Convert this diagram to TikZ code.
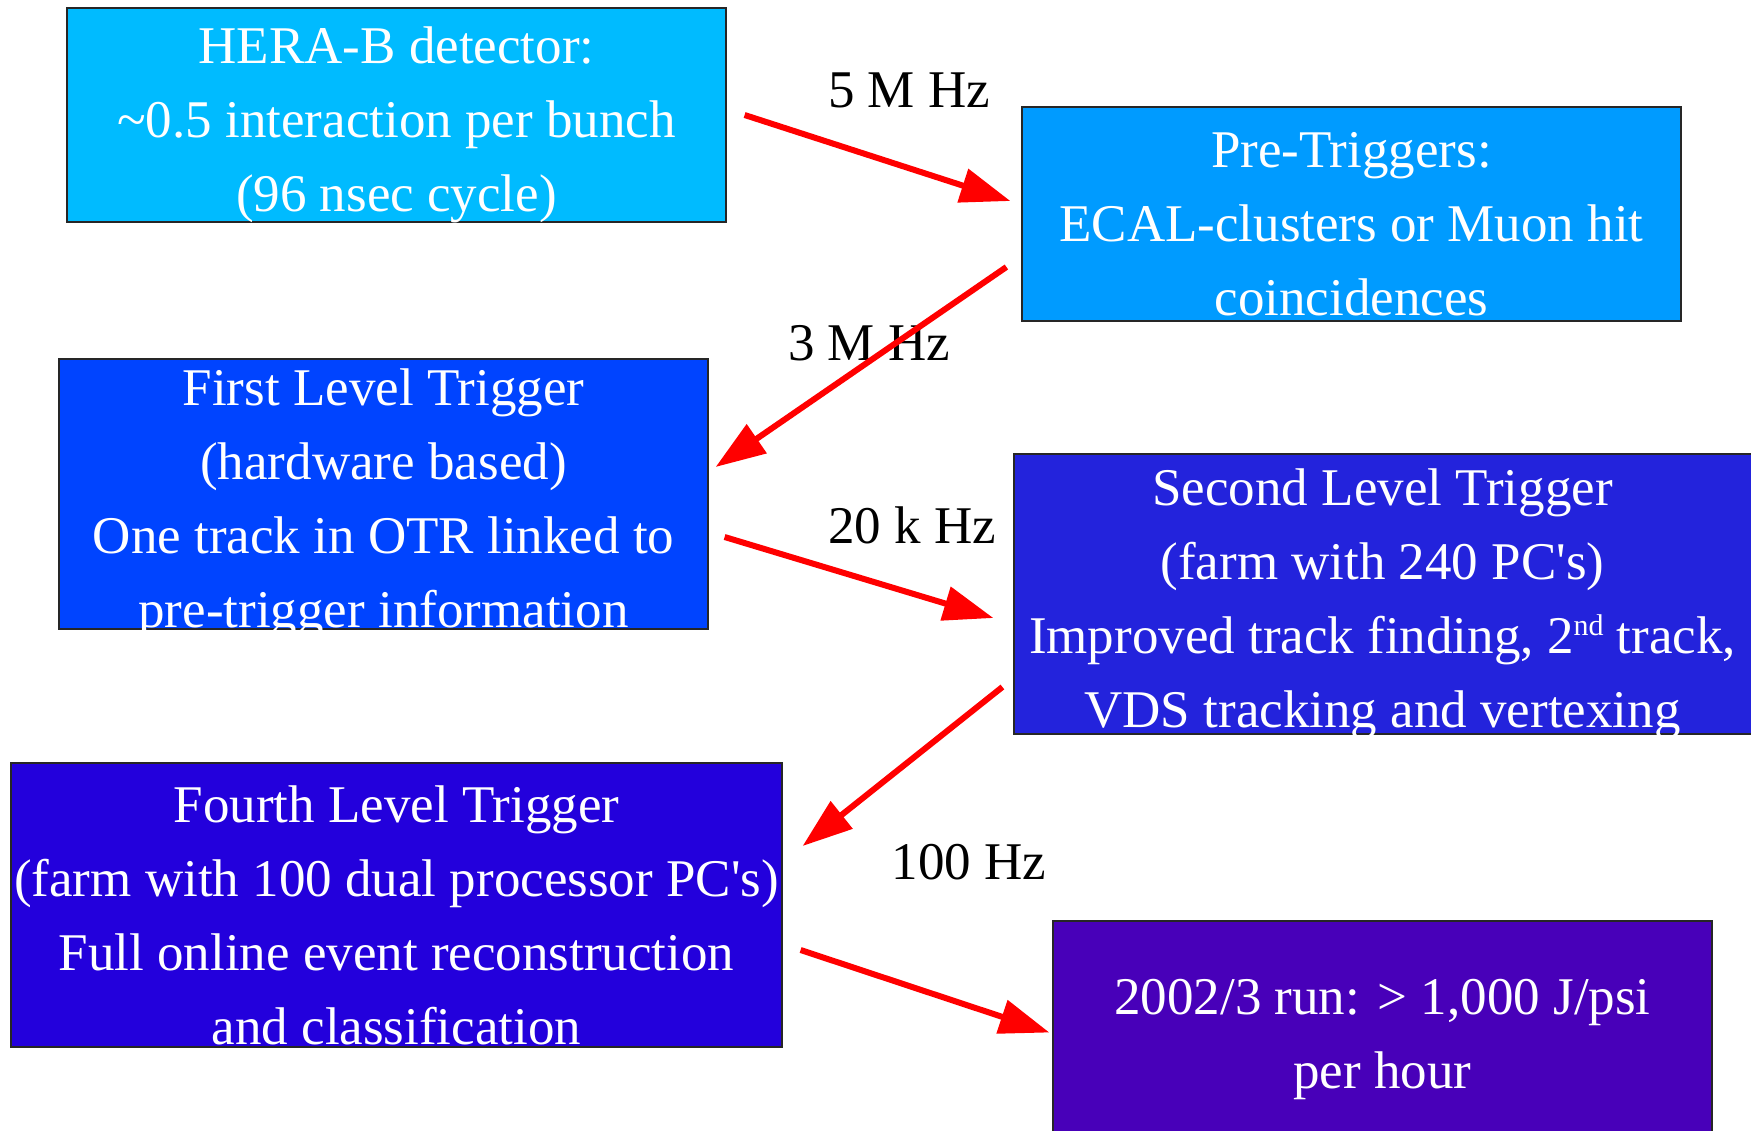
\documentclass[tikz,border=0pt]{standalone}
\usepackage{fontspec}
\setmainfont{Liberation Serif}
\usetikzlibrary{arrows.meta,positioning}
\definecolor{heraclr}{RGB}{0,187,255}
\definecolor{preclr}{RGB}{0,155,255}
\definecolor{flclr}{RGB}{0,68,255}
\definecolor{slclr}{RGB}{35,35,220}
\definecolor{fourclr}{RGB}{35,0,220}
\definecolor{runclr}{RGB}{72,0,185}

\begin{document}
\begin{tikzpicture}[
  x=1pt, y=-1pt,
  >={Triangle[length=50pt, width=34pt]},
  stage/.style={rectangle, draw=black!85, line width=1.2pt, inner sep=0pt},
  stagetxt/.style={text=white, align=center, inner sep=0pt, yshift=-10pt,
                   font=\fontsize{53}{74}\selectfont},
  rate/.style={inner sep=0pt, font=\fontsize{53}{64}\selectfont},
  flow/.style={->, draw=red, line width=6pt},
]
\useasboundingbox (0,0) rectangle (1751,1130);

\node[stage, fill=heraclr, minimum width=659pt, minimum height=214pt] (hera) at (396.5,115) {};
\node[stage, fill=preclr, minimum width=659pt, minimum height=214pt] (pre) at (1351.5,214) {};
\node[stage, fill=flclr, minimum width=649pt, minimum height=270pt] (flt) at (383.5,494) {};
\node[stage, fill=slclr, minimum width=746pt, minimum height=280pt] (slt) at (1387,594) {};
\node[stage, fill=fourclr, minimum width=771pt, minimum height=284pt] (fourlt) at (396.5,905) {};
\node[stage, fill=runclr, minimum width=659pt, minimum height=229pt] (run) at (1382.5,1035.5) {};

\node[stagetxt] (heratxt) at (hera) {HERA-B detector:\\ \textasciitilde0.5 interaction per bunch\\ (96 nsec cycle)};
\node[stagetxt] (pretxt) at (pre) {Pre-Triggers:\\ ECAL-clusters or Muon hit\\ coincidences};
\node[stagetxt] (flttxt) at (flt) {First Level Trigger\\ (hardware based)\\ One track in OTR linked to\\ pre-trigger information};
\node[stagetxt] (slttxt) at (1382.5,594) {Second Level Trigger\\ (farm with 240 PC\textquotesingle s)\\ Improved track finding, 2\raisebox{18pt}{\fontsize{30}{30}\selectfont nd} track,\\ VDS tracking and vertexing};
\node[stagetxt] (fourlttxt) at (fourlt) {Fourth Level Trigger\\ (farm with 100 dual processor PC\textquotesingle s)\\ Full online event reconstruction\\ and classification};
\node[stagetxt] (runtxt) at (1382.5,1030) {2002/3 run: > 1,000 J/psi\\ per hour};

\node[rate] (r1) at (909,90) {5 M Hz};
\node[rate] (r2) at (869,343) {3 M Hz};
\node[rate] (r3) at (912,525) {20 k Hz};
\node[rate] (r4) at (969,862) {100 Hz};

\draw[flow] ([xshift=18pt]hera.east) -- ([xshift=-11pt, yshift=13pt]pre.west);
\draw[flow] ([xshift=-15pt, yshift=-53pt]pre.west) -- ([xshift=7pt, yshift=27pt]flt.east);
\draw[flow] ([xshift=16pt, yshift=-43pt]flt.east) -- ([xshift=-20pt, yshift=-24pt]slt.west);
\draw[flow] ([xshift=-11pt, yshift=-93pt]slt.west) -- ([xshift=20pt, yshift=59pt]fourlt.east);
\draw[flow] ([xshift=18pt, yshift=-45pt]fourlt.east) -- ([xshift=-3pt, yshift=3pt]run.west);

\end{tikzpicture}
\end{document}
